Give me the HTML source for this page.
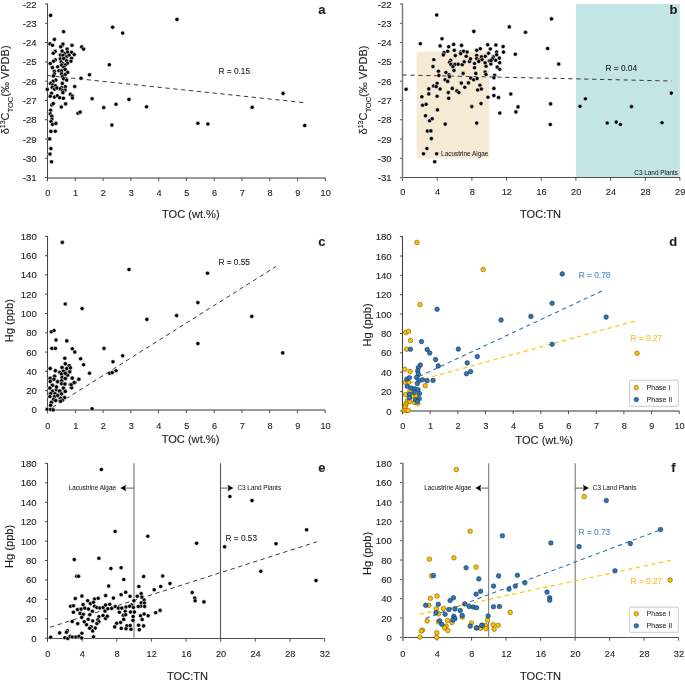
<!DOCTYPE html><html><head><meta charset="utf-8"><style>html,body{margin:0;padding:0;background:#fff;width:685px;height:681px;overflow:hidden}svg{display:block;will-change:transform;filter:blur(0.3px)}text{font-family:"Liberation Sans", sans-serif;stroke:#1e1e1e;stroke-width:0.12px}</style></head><body>
<svg width="685" height="681" viewBox="0 0 685 681" fill="#1e1e1e">
<defs><marker id="ah" markerWidth="6" markerHeight="6" refX="5" refY="3" orient="auto" markerUnits="userSpaceOnUse"><path d="M0,0 L6,3 L0,6 z" fill="#111"/></marker></defs>
<rect x="416.6" y="51.4" width="72.7" height="107.0" fill="#f6ead5"/>
<rect x="576.0" y="3.9" width="103.9" height="173.6" fill="#c3e5e3"/>
<line x1="44.9" y1="177.6" x2="47.5" y2="177.6" stroke="#404040" stroke-width="0.9"/>
<text x="36.7" y="181.1" font-size="9.6" text-anchor="end">-31</text>
<line x1="44.9" y1="158.3" x2="47.5" y2="158.3" stroke="#404040" stroke-width="0.9"/>
<text x="36.7" y="161.8" font-size="9.6" text-anchor="end">-30</text>
<line x1="44.9" y1="139.0" x2="47.5" y2="139.0" stroke="#404040" stroke-width="0.9"/>
<text x="36.7" y="142.5" font-size="9.6" text-anchor="end">-29</text>
<line x1="44.9" y1="119.7" x2="47.5" y2="119.7" stroke="#404040" stroke-width="0.9"/>
<text x="36.7" y="123.2" font-size="9.6" text-anchor="end">-28</text>
<line x1="44.9" y1="100.4" x2="47.5" y2="100.4" stroke="#404040" stroke-width="0.9"/>
<text x="36.7" y="103.9" font-size="9.6" text-anchor="end">-27</text>
<line x1="44.9" y1="81.2" x2="47.5" y2="81.2" stroke="#404040" stroke-width="0.9"/>
<text x="36.7" y="84.7" font-size="9.6" text-anchor="end">-26</text>
<line x1="44.9" y1="61.9" x2="47.5" y2="61.9" stroke="#404040" stroke-width="0.9"/>
<text x="36.7" y="65.4" font-size="9.6" text-anchor="end">-25</text>
<line x1="44.9" y1="42.6" x2="47.5" y2="42.6" stroke="#404040" stroke-width="0.9"/>
<text x="36.7" y="46.1" font-size="9.6" text-anchor="end">-24</text>
<line x1="44.9" y1="23.3" x2="47.5" y2="23.3" stroke="#404040" stroke-width="0.9"/>
<text x="36.7" y="26.8" font-size="9.6" text-anchor="end">-23</text>
<line x1="44.9" y1="4.0" x2="47.5" y2="4.0" stroke="#404040" stroke-width="0.9"/>
<text x="36.7" y="7.5" font-size="9.6" text-anchor="end">-22</text>
<line x1="47.5" y1="177.9" x2="325.4" y2="177.9" stroke="#9a9a9a" stroke-width="2"/>
<line x1="47.5" y1="177.9" x2="47.5" y2="181.1" stroke="#404040" stroke-width="0.9"/>
<text x="47.8" y="195.5" font-size="9.2" text-anchor="middle">0</text>
<line x1="75.3" y1="177.9" x2="75.3" y2="181.1" stroke="#404040" stroke-width="0.9"/>
<text x="75.6" y="195.5" font-size="9.2" text-anchor="middle">1</text>
<line x1="103.1" y1="177.9" x2="103.1" y2="181.1" stroke="#404040" stroke-width="0.9"/>
<text x="103.4" y="195.5" font-size="9.2" text-anchor="middle">2</text>
<line x1="130.9" y1="177.9" x2="130.9" y2="181.1" stroke="#404040" stroke-width="0.9"/>
<text x="131.2" y="195.5" font-size="9.2" text-anchor="middle">3</text>
<line x1="158.7" y1="177.9" x2="158.7" y2="181.1" stroke="#404040" stroke-width="0.9"/>
<text x="159.0" y="195.5" font-size="9.2" text-anchor="middle">4</text>
<line x1="186.4" y1="177.9" x2="186.4" y2="181.1" stroke="#404040" stroke-width="0.9"/>
<text x="186.8" y="195.5" font-size="9.2" text-anchor="middle">5</text>
<line x1="214.2" y1="177.9" x2="214.2" y2="181.1" stroke="#404040" stroke-width="0.9"/>
<text x="214.5" y="195.5" font-size="9.2" text-anchor="middle">6</text>
<line x1="242.0" y1="177.9" x2="242.0" y2="181.1" stroke="#404040" stroke-width="0.9"/>
<text x="242.3" y="195.5" font-size="9.2" text-anchor="middle">7</text>
<line x1="269.8" y1="177.9" x2="269.8" y2="181.1" stroke="#404040" stroke-width="0.9"/>
<text x="270.1" y="195.5" font-size="9.2" text-anchor="middle">8</text>
<line x1="297.6" y1="177.9" x2="297.6" y2="181.1" stroke="#404040" stroke-width="0.9"/>
<text x="297.9" y="195.5" font-size="9.2" text-anchor="middle">9</text>
<line x1="325.4" y1="177.9" x2="325.4" y2="181.1" stroke="#404040" stroke-width="0.9"/>
<text x="325.7" y="195.5" font-size="9.2" text-anchor="middle">10</text>
<line x1="47.5" y1="3.5" x2="47.5" y2="181.1" stroke="#454545" stroke-width="1.1"/>
<line x1="399.9" y1="177.6" x2="402.5" y2="177.6" stroke="#404040" stroke-width="0.9"/>
<text x="391.7" y="181.1" font-size="9.6" text-anchor="end">-31</text>
<line x1="399.9" y1="158.3" x2="402.5" y2="158.3" stroke="#404040" stroke-width="0.9"/>
<text x="391.7" y="161.8" font-size="9.6" text-anchor="end">-30</text>
<line x1="399.9" y1="139.0" x2="402.5" y2="139.0" stroke="#404040" stroke-width="0.9"/>
<text x="391.7" y="142.5" font-size="9.6" text-anchor="end">-29</text>
<line x1="399.9" y1="119.7" x2="402.5" y2="119.7" stroke="#404040" stroke-width="0.9"/>
<text x="391.7" y="123.2" font-size="9.6" text-anchor="end">-28</text>
<line x1="399.9" y1="100.4" x2="402.5" y2="100.4" stroke="#404040" stroke-width="0.9"/>
<text x="391.7" y="103.9" font-size="9.6" text-anchor="end">-27</text>
<line x1="399.9" y1="81.2" x2="402.5" y2="81.2" stroke="#404040" stroke-width="0.9"/>
<text x="391.7" y="84.7" font-size="9.6" text-anchor="end">-26</text>
<line x1="399.9" y1="61.9" x2="402.5" y2="61.9" stroke="#404040" stroke-width="0.9"/>
<text x="391.7" y="65.4" font-size="9.6" text-anchor="end">-25</text>
<line x1="399.9" y1="42.6" x2="402.5" y2="42.6" stroke="#404040" stroke-width="0.9"/>
<text x="391.7" y="46.1" font-size="9.6" text-anchor="end">-24</text>
<line x1="399.9" y1="23.3" x2="402.5" y2="23.3" stroke="#404040" stroke-width="0.9"/>
<text x="391.7" y="26.8" font-size="9.6" text-anchor="end">-23</text>
<line x1="399.9" y1="4.0" x2="402.5" y2="4.0" stroke="#404040" stroke-width="0.9"/>
<text x="391.7" y="7.5" font-size="9.6" text-anchor="end">-22</text>
<line x1="402.5" y1="177.5" x2="679.9" y2="177.5" stroke="#505050" stroke-width="1.1"/>
<line x1="402.5" y1="177.5" x2="402.5" y2="180.7" stroke="#404040" stroke-width="0.9"/>
<text x="402.8" y="195.4" font-size="9.2" text-anchor="middle">0</text>
<line x1="437.2" y1="177.5" x2="437.2" y2="180.7" stroke="#404040" stroke-width="0.9"/>
<text x="437.5" y="195.4" font-size="9.2" text-anchor="middle">4</text>
<line x1="471.9" y1="177.5" x2="471.9" y2="180.7" stroke="#404040" stroke-width="0.9"/>
<text x="472.2" y="195.4" font-size="9.2" text-anchor="middle">8</text>
<line x1="506.5" y1="177.5" x2="506.5" y2="180.7" stroke="#404040" stroke-width="0.9"/>
<text x="506.8" y="195.4" font-size="9.2" text-anchor="middle">12</text>
<line x1="541.2" y1="177.5" x2="541.2" y2="180.7" stroke="#404040" stroke-width="0.9"/>
<text x="541.5" y="195.4" font-size="9.2" text-anchor="middle">16</text>
<line x1="575.9" y1="177.5" x2="575.9" y2="180.7" stroke="#404040" stroke-width="0.9"/>
<text x="576.2" y="195.4" font-size="9.2" text-anchor="middle">20</text>
<line x1="610.6" y1="177.5" x2="610.6" y2="180.7" stroke="#404040" stroke-width="0.9"/>
<text x="610.9" y="195.4" font-size="9.2" text-anchor="middle">24</text>
<line x1="645.3" y1="177.5" x2="645.3" y2="180.7" stroke="#404040" stroke-width="0.9"/>
<text x="645.6" y="195.4" font-size="9.2" text-anchor="middle">28</text>
<line x1="679.9" y1="177.5" x2="679.9" y2="180.7" stroke="#404040" stroke-width="0.9"/>
<text x="680.2" y="195.4" font-size="9.2" text-anchor="middle">29</text>
<line x1="402.5" y1="3.5" x2="402.5" y2="180.7" stroke="#777" stroke-width="1.4"/>
<line x1="45.0" y1="409.9" x2="47.6" y2="409.9" stroke="#404040" stroke-width="0.9"/>
<text x="36.8" y="413.4" font-size="9.6" text-anchor="end">0</text>
<line x1="45.0" y1="390.6" x2="47.6" y2="390.6" stroke="#404040" stroke-width="0.9"/>
<text x="36.8" y="394.1" font-size="9.6" text-anchor="end">20</text>
<line x1="45.0" y1="371.3" x2="47.6" y2="371.3" stroke="#404040" stroke-width="0.9"/>
<text x="36.8" y="374.8" font-size="9.6" text-anchor="end">40</text>
<line x1="45.0" y1="352.1" x2="47.6" y2="352.1" stroke="#404040" stroke-width="0.9"/>
<text x="36.8" y="355.6" font-size="9.6" text-anchor="end">60</text>
<line x1="45.0" y1="332.8" x2="47.6" y2="332.8" stroke="#404040" stroke-width="0.9"/>
<text x="36.8" y="336.3" font-size="9.6" text-anchor="end">80</text>
<line x1="45.0" y1="313.5" x2="47.6" y2="313.5" stroke="#404040" stroke-width="0.9"/>
<text x="36.8" y="317.0" font-size="9.6" text-anchor="end">100</text>
<line x1="45.0" y1="294.2" x2="47.6" y2="294.2" stroke="#404040" stroke-width="0.9"/>
<text x="36.8" y="297.7" font-size="9.6" text-anchor="end">120</text>
<line x1="45.0" y1="274.9" x2="47.6" y2="274.9" stroke="#404040" stroke-width="0.9"/>
<text x="36.8" y="278.4" font-size="9.6" text-anchor="end">140</text>
<line x1="45.0" y1="255.7" x2="47.6" y2="255.7" stroke="#404040" stroke-width="0.9"/>
<text x="36.8" y="259.2" font-size="9.6" text-anchor="end">160</text>
<line x1="45.0" y1="236.4" x2="47.6" y2="236.4" stroke="#404040" stroke-width="0.9"/>
<text x="36.8" y="239.9" font-size="9.6" text-anchor="end">180</text>
<line x1="47.6" y1="410.0" x2="325.2" y2="410.0" stroke="#9a9a9a" stroke-width="2"/>
<line x1="47.6" y1="410.0" x2="47.6" y2="413.2" stroke="#404040" stroke-width="0.9"/>
<text x="47.9" y="428.8" font-size="9.2" text-anchor="middle">0</text>
<line x1="75.4" y1="410.0" x2="75.4" y2="413.2" stroke="#404040" stroke-width="0.9"/>
<text x="75.7" y="428.8" font-size="9.2" text-anchor="middle">1</text>
<line x1="103.1" y1="410.0" x2="103.1" y2="413.2" stroke="#404040" stroke-width="0.9"/>
<text x="103.4" y="428.8" font-size="9.2" text-anchor="middle">2</text>
<line x1="130.9" y1="410.0" x2="130.9" y2="413.2" stroke="#404040" stroke-width="0.9"/>
<text x="131.2" y="428.8" font-size="9.2" text-anchor="middle">3</text>
<line x1="158.6" y1="410.0" x2="158.6" y2="413.2" stroke="#404040" stroke-width="0.9"/>
<text x="158.9" y="428.8" font-size="9.2" text-anchor="middle">4</text>
<line x1="186.4" y1="410.0" x2="186.4" y2="413.2" stroke="#404040" stroke-width="0.9"/>
<text x="186.7" y="428.8" font-size="9.2" text-anchor="middle">5</text>
<line x1="214.2" y1="410.0" x2="214.2" y2="413.2" stroke="#404040" stroke-width="0.9"/>
<text x="214.5" y="428.8" font-size="9.2" text-anchor="middle">6</text>
<line x1="241.9" y1="410.0" x2="241.9" y2="413.2" stroke="#404040" stroke-width="0.9"/>
<text x="242.2" y="428.8" font-size="9.2" text-anchor="middle">7</text>
<line x1="269.7" y1="410.0" x2="269.7" y2="413.2" stroke="#404040" stroke-width="0.9"/>
<text x="270.0" y="428.8" font-size="9.2" text-anchor="middle">8</text>
<line x1="297.4" y1="410.0" x2="297.4" y2="413.2" stroke="#404040" stroke-width="0.9"/>
<text x="297.7" y="428.8" font-size="9.2" text-anchor="middle">9</text>
<line x1="325.2" y1="410.0" x2="325.2" y2="413.2" stroke="#404040" stroke-width="0.9"/>
<text x="325.5" y="428.8" font-size="9.2" text-anchor="middle">10</text>
<line x1="47.5" y1="235.9" x2="47.5" y2="413.2" stroke="#454545" stroke-width="1.1"/>
<line x1="399.9" y1="411.0" x2="402.5" y2="411.0" stroke="#404040" stroke-width="0.9"/>
<text x="391.7" y="414.5" font-size="9.6" text-anchor="end">0</text>
<line x1="399.9" y1="391.6" x2="402.5" y2="391.6" stroke="#404040" stroke-width="0.9"/>
<text x="391.7" y="395.1" font-size="9.6" text-anchor="end">20</text>
<line x1="399.9" y1="372.2" x2="402.5" y2="372.2" stroke="#404040" stroke-width="0.9"/>
<text x="391.7" y="375.7" font-size="9.6" text-anchor="end">40</text>
<line x1="399.9" y1="352.9" x2="402.5" y2="352.9" stroke="#404040" stroke-width="0.9"/>
<text x="391.7" y="356.4" font-size="9.6" text-anchor="end">60</text>
<line x1="399.9" y1="333.5" x2="402.5" y2="333.5" stroke="#404040" stroke-width="0.9"/>
<text x="391.7" y="337.0" font-size="9.6" text-anchor="end">80</text>
<line x1="399.9" y1="314.1" x2="402.5" y2="314.1" stroke="#404040" stroke-width="0.9"/>
<text x="391.7" y="317.6" font-size="9.6" text-anchor="end">100</text>
<line x1="399.9" y1="294.7" x2="402.5" y2="294.7" stroke="#404040" stroke-width="0.9"/>
<text x="391.7" y="298.2" font-size="9.6" text-anchor="end">120</text>
<line x1="399.9" y1="275.3" x2="402.5" y2="275.3" stroke="#404040" stroke-width="0.9"/>
<text x="391.7" y="278.8" font-size="9.6" text-anchor="end">140</text>
<line x1="399.9" y1="256.0" x2="402.5" y2="256.0" stroke="#404040" stroke-width="0.9"/>
<text x="391.7" y="259.5" font-size="9.6" text-anchor="end">160</text>
<line x1="399.9" y1="236.6" x2="402.5" y2="236.6" stroke="#404040" stroke-width="0.9"/>
<text x="391.7" y="240.1" font-size="9.6" text-anchor="end">180</text>
<line x1="402.5" y1="410.9" x2="679.2" y2="410.9" stroke="#9a9a9a" stroke-width="2"/>
<line x1="402.5" y1="410.9" x2="402.5" y2="414.1" stroke="#404040" stroke-width="0.9"/>
<text x="402.8" y="428.6" font-size="9.2" text-anchor="middle">0</text>
<line x1="430.2" y1="410.9" x2="430.2" y2="414.1" stroke="#404040" stroke-width="0.9"/>
<text x="430.5" y="428.6" font-size="9.2" text-anchor="middle">1</text>
<line x1="457.8" y1="410.9" x2="457.8" y2="414.1" stroke="#404040" stroke-width="0.9"/>
<text x="458.1" y="428.6" font-size="9.2" text-anchor="middle">2</text>
<line x1="485.5" y1="410.9" x2="485.5" y2="414.1" stroke="#404040" stroke-width="0.9"/>
<text x="485.8" y="428.6" font-size="9.2" text-anchor="middle">3</text>
<line x1="513.2" y1="410.9" x2="513.2" y2="414.1" stroke="#404040" stroke-width="0.9"/>
<text x="513.5" y="428.6" font-size="9.2" text-anchor="middle">4</text>
<line x1="540.9" y1="410.9" x2="540.9" y2="414.1" stroke="#404040" stroke-width="0.9"/>
<text x="541.1" y="428.6" font-size="9.2" text-anchor="middle">5</text>
<line x1="568.5" y1="410.9" x2="568.5" y2="414.1" stroke="#404040" stroke-width="0.9"/>
<text x="568.8" y="428.6" font-size="9.2" text-anchor="middle">6</text>
<line x1="596.2" y1="410.9" x2="596.2" y2="414.1" stroke="#404040" stroke-width="0.9"/>
<text x="596.5" y="428.6" font-size="9.2" text-anchor="middle">7</text>
<line x1="623.9" y1="410.9" x2="623.9" y2="414.1" stroke="#404040" stroke-width="0.9"/>
<text x="624.2" y="428.6" font-size="9.2" text-anchor="middle">8</text>
<line x1="651.5" y1="410.9" x2="651.5" y2="414.1" stroke="#404040" stroke-width="0.9"/>
<text x="651.8" y="428.6" font-size="9.2" text-anchor="middle">9</text>
<line x1="679.2" y1="410.9" x2="679.2" y2="414.1" stroke="#404040" stroke-width="0.9"/>
<text x="679.5" y="428.6" font-size="9.2" text-anchor="middle">10</text>
<line x1="402.5" y1="236.1" x2="402.5" y2="414.1" stroke="#454545" stroke-width="1.1"/>
<line x1="44.9" y1="638.2" x2="47.5" y2="638.2" stroke="#404040" stroke-width="0.9"/>
<text x="36.7" y="641.7" font-size="9.6" text-anchor="end">0</text>
<line x1="44.9" y1="618.8" x2="47.5" y2="618.8" stroke="#404040" stroke-width="0.9"/>
<text x="36.7" y="622.3" font-size="9.6" text-anchor="end">20</text>
<line x1="44.9" y1="599.4" x2="47.5" y2="599.4" stroke="#404040" stroke-width="0.9"/>
<text x="36.7" y="602.9" font-size="9.6" text-anchor="end">40</text>
<line x1="44.9" y1="579.9" x2="47.5" y2="579.9" stroke="#404040" stroke-width="0.9"/>
<text x="36.7" y="583.4" font-size="9.6" text-anchor="end">60</text>
<line x1="44.9" y1="560.5" x2="47.5" y2="560.5" stroke="#404040" stroke-width="0.9"/>
<text x="36.7" y="564.0" font-size="9.6" text-anchor="end">80</text>
<line x1="44.9" y1="541.1" x2="47.5" y2="541.1" stroke="#404040" stroke-width="0.9"/>
<text x="36.7" y="544.6" font-size="9.6" text-anchor="end">100</text>
<line x1="44.9" y1="521.7" x2="47.5" y2="521.7" stroke="#404040" stroke-width="0.9"/>
<text x="36.7" y="525.2" font-size="9.6" text-anchor="end">120</text>
<line x1="44.9" y1="502.3" x2="47.5" y2="502.3" stroke="#404040" stroke-width="0.9"/>
<text x="36.7" y="505.8" font-size="9.6" text-anchor="end">140</text>
<line x1="44.9" y1="482.8" x2="47.5" y2="482.8" stroke="#404040" stroke-width="0.9"/>
<text x="36.7" y="486.3" font-size="9.6" text-anchor="end">160</text>
<line x1="44.9" y1="463.4" x2="47.5" y2="463.4" stroke="#404040" stroke-width="0.9"/>
<text x="36.7" y="466.9" font-size="9.6" text-anchor="end">180</text>
<line x1="47.5" y1="638.5" x2="324.6" y2="638.5" stroke="#505050" stroke-width="1.1"/>
<line x1="47.5" y1="638.5" x2="47.5" y2="641.7" stroke="#404040" stroke-width="0.9"/>
<text x="47.8" y="657.0" font-size="9.2" text-anchor="middle">0</text>
<line x1="82.1" y1="638.5" x2="82.1" y2="641.7" stroke="#404040" stroke-width="0.9"/>
<text x="82.4" y="657.0" font-size="9.2" text-anchor="middle">4</text>
<line x1="116.8" y1="638.5" x2="116.8" y2="641.7" stroke="#404040" stroke-width="0.9"/>
<text x="117.1" y="657.0" font-size="9.2" text-anchor="middle">8</text>
<line x1="151.4" y1="638.5" x2="151.4" y2="641.7" stroke="#404040" stroke-width="0.9"/>
<text x="151.7" y="657.0" font-size="9.2" text-anchor="middle">12</text>
<line x1="186.1" y1="638.5" x2="186.1" y2="641.7" stroke="#404040" stroke-width="0.9"/>
<text x="186.4" y="657.0" font-size="9.2" text-anchor="middle">16</text>
<line x1="220.7" y1="638.5" x2="220.7" y2="641.7" stroke="#404040" stroke-width="0.9"/>
<text x="221.0" y="657.0" font-size="9.2" text-anchor="middle">20</text>
<line x1="255.3" y1="638.5" x2="255.3" y2="641.7" stroke="#404040" stroke-width="0.9"/>
<text x="255.6" y="657.0" font-size="9.2" text-anchor="middle">24</text>
<line x1="290.0" y1="638.5" x2="290.0" y2="641.7" stroke="#404040" stroke-width="0.9"/>
<text x="290.3" y="657.0" font-size="9.2" text-anchor="middle">28</text>
<line x1="324.6" y1="638.5" x2="324.6" y2="641.7" stroke="#404040" stroke-width="0.9"/>
<text x="324.9" y="657.0" font-size="9.2" text-anchor="middle">32</text>
<line x1="47.5" y1="462.9" x2="47.5" y2="641.7" stroke="#454545" stroke-width="1.1"/>
<line x1="400.0" y1="637.4" x2="402.6" y2="637.4" stroke="#404040" stroke-width="0.9"/>
<text x="391.8" y="640.9" font-size="9.6" text-anchor="end">0</text>
<line x1="400.0" y1="618.1" x2="402.6" y2="618.1" stroke="#404040" stroke-width="0.9"/>
<text x="391.8" y="621.6" font-size="9.6" text-anchor="end">20</text>
<line x1="400.0" y1="598.7" x2="402.6" y2="598.7" stroke="#404040" stroke-width="0.9"/>
<text x="391.8" y="602.2" font-size="9.6" text-anchor="end">40</text>
<line x1="400.0" y1="579.4" x2="402.6" y2="579.4" stroke="#404040" stroke-width="0.9"/>
<text x="391.8" y="582.9" font-size="9.6" text-anchor="end">60</text>
<line x1="400.0" y1="560.0" x2="402.6" y2="560.0" stroke="#404040" stroke-width="0.9"/>
<text x="391.8" y="563.5" font-size="9.6" text-anchor="end">80</text>
<line x1="400.0" y1="540.7" x2="402.6" y2="540.7" stroke="#404040" stroke-width="0.9"/>
<text x="391.8" y="544.2" font-size="9.6" text-anchor="end">100</text>
<line x1="400.0" y1="521.3" x2="402.6" y2="521.3" stroke="#404040" stroke-width="0.9"/>
<text x="391.8" y="524.8" font-size="9.6" text-anchor="end">120</text>
<line x1="400.0" y1="502.0" x2="402.6" y2="502.0" stroke="#404040" stroke-width="0.9"/>
<text x="391.8" y="505.5" font-size="9.6" text-anchor="end">140</text>
<line x1="400.0" y1="482.6" x2="402.6" y2="482.6" stroke="#404040" stroke-width="0.9"/>
<text x="391.8" y="486.1" font-size="9.6" text-anchor="end">160</text>
<line x1="400.0" y1="463.3" x2="402.6" y2="463.3" stroke="#404040" stroke-width="0.9"/>
<text x="391.8" y="466.8" font-size="9.6" text-anchor="end">180</text>
<line x1="402.6" y1="637.5" x2="678.6" y2="637.5" stroke="#505050" stroke-width="1.1"/>
<line x1="402.6" y1="637.5" x2="402.6" y2="640.7" stroke="#404040" stroke-width="0.9"/>
<text x="402.9" y="656.9" font-size="9.2" text-anchor="middle">0</text>
<line x1="437.1" y1="637.5" x2="437.1" y2="640.7" stroke="#404040" stroke-width="0.9"/>
<text x="437.4" y="656.9" font-size="9.2" text-anchor="middle">4</text>
<line x1="471.6" y1="637.5" x2="471.6" y2="640.7" stroke="#404040" stroke-width="0.9"/>
<text x="471.9" y="656.9" font-size="9.2" text-anchor="middle">8</text>
<line x1="506.1" y1="637.5" x2="506.1" y2="640.7" stroke="#404040" stroke-width="0.9"/>
<text x="506.4" y="656.9" font-size="9.2" text-anchor="middle">12</text>
<line x1="540.6" y1="637.5" x2="540.6" y2="640.7" stroke="#404040" stroke-width="0.9"/>
<text x="540.9" y="656.9" font-size="9.2" text-anchor="middle">16</text>
<line x1="575.1" y1="637.5" x2="575.1" y2="640.7" stroke="#404040" stroke-width="0.9"/>
<text x="575.4" y="656.9" font-size="9.2" text-anchor="middle">20</text>
<line x1="609.6" y1="637.5" x2="609.6" y2="640.7" stroke="#404040" stroke-width="0.9"/>
<text x="609.9" y="656.9" font-size="9.2" text-anchor="middle">24</text>
<line x1="644.1" y1="637.5" x2="644.1" y2="640.7" stroke="#404040" stroke-width="0.9"/>
<text x="644.4" y="656.9" font-size="9.2" text-anchor="middle">28</text>
<line x1="678.6" y1="637.5" x2="678.6" y2="640.7" stroke="#404040" stroke-width="0.9"/>
<text x="678.9" y="656.9" font-size="9.2" text-anchor="middle">32</text>
<line x1="402.9" y1="462.8" x2="402.9" y2="640.7" stroke="#8a8a8a" stroke-width="1.9"/>
<line x1="134.0" y1="463.3" x2="134.0" y2="638.2" stroke="#a8a8a8" stroke-width="1.8"/>
<line x1="220.5" y1="463.3" x2="220.5" y2="638.2" stroke="#555" stroke-width="1.1"/>
<line x1="488.6" y1="463.3" x2="488.6" y2="637.4" stroke="#888" stroke-width="1.2"/>
<line x1="575.2" y1="463.3" x2="575.2" y2="637.4" stroke="#777" stroke-width="1.1"/>
<line x1="134.0" y1="488.1" x2="124.8" y2="488.1" stroke="#6a6a6a" stroke-width="1.1"/>
<path d="M120.6,488.1 L126.0,485.1 L124.9,488.1 L126.0,491.1 z" fill="#000" stroke="#000" stroke-width="0.3" stroke-linejoin="round"/>
<line x1="220.5" y1="488.1" x2="228.9" y2="488.1" stroke="#6a6a6a" stroke-width="1.1"/>
<path d="M233.1,488.1 L227.7,485.1 L228.8,488.1 L227.7,491.1 z" fill="#000" stroke="#000" stroke-width="0.3" stroke-linejoin="round"/>
<line x1="488.6" y1="488.1" x2="479.8" y2="488.1" stroke="#6a6a6a" stroke-width="1.1"/>
<path d="M475.6,488.1 L481.0,485.1 L479.9,488.1 L481.0,491.1 z" fill="#000" stroke="#000" stroke-width="0.3" stroke-linejoin="round"/>
<line x1="575.2" y1="488.1" x2="584.3" y2="488.1" stroke="#6a6a6a" stroke-width="1.1"/>
<path d="M588.5,488.1 L583.1,485.1 L584.2,488.1 L583.1,491.1 z" fill="#000" stroke="#000" stroke-width="0.3" stroke-linejoin="round"/>
<text x="116.0" y="490.1" font-size="6.4" text-anchor="end" style="fill:#1e1e1e;stroke:#1e1e1e;stroke-width:0.05px" font-weight="normal">Lacustrine Algae</text>
<text x="237.4" y="490.1" font-size="6.4" text-anchor="start" style="fill:#1e1e1e;stroke:#1e1e1e;stroke-width:0.05px" font-weight="normal">C3 Land Plants</text>
<text x="471.4" y="490.1" font-size="6.4" text-anchor="end" style="fill:#1e1e1e;stroke:#1e1e1e;stroke-width:0.05px" font-weight="normal">Lacustrine Algae</text>
<text x="592.8" y="490.1" font-size="6.4" text-anchor="start" style="fill:#1e1e1e;stroke:#1e1e1e;stroke-width:0.05px" font-weight="normal">C3 Land Plants</text>
<text x="441.1" y="155.8" font-size="6.4" text-anchor="start" style="fill:#1e1e1e;stroke:#1e1e1e;stroke-width:0.05px" font-weight="normal">Lacustrine Algae</text>
<text x="678.0" y="174.5" font-size="6.4" text-anchor="end" style="fill:#1e1e1e;stroke:#1e1e1e;stroke-width:0.05px" font-weight="normal">C3 Land Plants</text>
<line x1="47.5" y1="75.5" x2="303.8" y2="102.6" stroke="#383838" stroke-width="1.0" stroke-dasharray="4.3 3.6"/>
<line x1="402.5" y1="75.0" x2="671.6" y2="81.0" stroke="#383838" stroke-width="1.0" stroke-dasharray="4.3 3.6"/>
<line x1="52.5" y1="407.3" x2="276.0" y2="266.5" stroke="#383838" stroke-width="1.0" stroke-dasharray="4.3 3.6"/>
<line x1="50.0" y1="627.3" x2="316.9" y2="541.8" stroke="#383838" stroke-width="1.0" stroke-dasharray="4.3 3.6"/>
<line x1="419.0" y1="376.5" x2="605.0" y2="289.6" stroke="#2e75b6" stroke-width="1.1" stroke-dasharray="4.3 3.6"/>
<line x1="409.6" y1="383.0" x2="637.0" y2="320.5" stroke="#ffc000" stroke-width="1.1" stroke-dasharray="4.3 3.6"/>
<line x1="425.7" y1="618.4" x2="660.5" y2="529.8" stroke="#2e75b6" stroke-width="1.1" stroke-dasharray="4.3 3.6"/>
<line x1="419.6" y1="614.3" x2="670.7" y2="560.4" stroke="#ffc000" stroke-width="1.1" stroke-dasharray="4.3 3.6"/>
<text x="218.5" y="74.0" font-size="8.9" textLength="31.6" lengthAdjust="spacingAndGlyphs" style="fill:#1e1e1e;stroke:#1e1e1e">R = 0.15</text>
<text x="605.5" y="70.7" font-size="8.9" textLength="31.6" lengthAdjust="spacingAndGlyphs" style="fill:#1e1e1e;stroke:#1e1e1e">R = 0.04</text>
<text x="218.4" y="264.7" font-size="8.9" textLength="31.6" lengthAdjust="spacingAndGlyphs" style="fill:#1e1e1e;stroke:#1e1e1e">R = 0.55</text>
<text x="225.5" y="540.6" font-size="8.9" textLength="31.6" lengthAdjust="spacingAndGlyphs" style="fill:#1e1e1e;stroke:#1e1e1e">R = 0.53</text>
<text x="578.8" y="277.5" font-size="8.9" textLength="31.6" lengthAdjust="spacingAndGlyphs" style="fill:#4a8ac8;stroke:#4a8ac8">R = 0.78</text>
<text x="630.6" y="340.7" font-size="8.9" textLength="31.6" lengthAdjust="spacingAndGlyphs" style="fill:#f7bd22;stroke:#f7bd22">R = 0.27</text>
<text x="578.6" y="534.7" font-size="8.9" textLength="31.6" lengthAdjust="spacingAndGlyphs" style="fill:#4a8ac8;stroke:#4a8ac8">R = 0.73</text>
<text x="630.6" y="583.7" font-size="8.9" textLength="31.6" lengthAdjust="spacingAndGlyphs" style="fill:#f7bd22;stroke:#f7bd22">R = 0.27</text>
<g fill="#000" stroke="#fff" stroke-width="0.5"><circle cx="177.0" cy="19.4" r="2.05"/><circle cx="112.6" cy="27.2" r="2.05"/><circle cx="122.7" cy="33.1" r="2.05"/><circle cx="81.7" cy="46.9" r="2.05"/><circle cx="83.6" cy="49.1" r="2.05"/><circle cx="109.3" cy="64.8" r="2.05"/><circle cx="89.5" cy="74.8" r="2.05"/><circle cx="81.0" cy="78.2" r="2.05"/><circle cx="92.1" cy="98.7" r="2.05"/><circle cx="129.0" cy="99.4" r="2.05"/><circle cx="116.0" cy="104.2" r="2.05"/><circle cx="103.7" cy="107.6" r="2.05"/><circle cx="146.5" cy="106.8" r="2.05"/><circle cx="78.0" cy="113.2" r="2.05"/><circle cx="80.2" cy="112.1" r="2.05"/><circle cx="111.9" cy="125.1" r="2.05"/><circle cx="197.9" cy="123.2" r="2.05"/><circle cx="207.9" cy="124.0" r="2.05"/><circle cx="252.2" cy="107.2" r="2.05"/><circle cx="283.1" cy="93.4" r="2.05"/><circle cx="304.7" cy="125.5" r="2.05"/><circle cx="50.6" cy="15.4" r="2.05"/><circle cx="63.6" cy="31.7" r="2.05"/><circle cx="54.4" cy="39.4" r="2.05"/><circle cx="50.0" cy="43.9" r="2.05"/><circle cx="52.5" cy="45.3" r="2.05"/><circle cx="72.0" cy="45.3" r="2.05"/><circle cx="62.1" cy="45.8" r="2.05"/><circle cx="62.9" cy="44.1" r="2.05"/><circle cx="60.7" cy="46.7" r="2.05"/><circle cx="67.1" cy="49.1" r="2.05"/><circle cx="55.2" cy="51.4" r="2.05"/><circle cx="53.3" cy="53.3" r="2.05"/><circle cx="62.1" cy="51.1" r="2.05"/><circle cx="64.7" cy="53.6" r="2.05"/><circle cx="67.6" cy="52.0" r="2.05"/><circle cx="71.6" cy="52.3" r="2.05"/><circle cx="74.2" cy="54.6" r="2.05"/><circle cx="60.3" cy="55.1" r="2.05"/><circle cx="62.9" cy="55.5" r="2.05"/><circle cx="66.5" cy="56.8" r="2.05"/><circle cx="69.1" cy="55.1" r="2.05"/><circle cx="71.6" cy="58.3" r="2.05"/><circle cx="60.3" cy="58.9" r="2.05"/><circle cx="55.3" cy="59.9" r="2.05"/><circle cx="64.3" cy="58.6" r="2.05"/><circle cx="63.8" cy="58.5" r="2.05"/><circle cx="53.5" cy="61.2" r="2.05"/><circle cx="50.2" cy="63.5" r="2.05"/><circle cx="61.2" cy="62.0" r="2.05"/><circle cx="66.5" cy="60.7" r="2.05"/><circle cx="70.9" cy="61.2" r="2.05"/><circle cx="67.3" cy="63.4" r="2.05"/><circle cx="62.9" cy="63.8" r="2.05"/><circle cx="65.1" cy="65.1" r="2.05"/><circle cx="61.6" cy="65.1" r="2.05"/><circle cx="57.7" cy="66.7" r="2.05"/><circle cx="52.4" cy="67.6" r="2.05"/><circle cx="63.8" cy="67.3" r="2.05"/><circle cx="65.1" cy="69.5" r="2.05"/><circle cx="59.0" cy="70.7" r="2.05"/><circle cx="61.6" cy="70.9" r="2.05"/><circle cx="54.4" cy="71.3" r="2.05"/><circle cx="67.6" cy="72.4" r="2.05"/><circle cx="54.4" cy="73.8" r="2.05"/><circle cx="61.6" cy="73.8" r="2.05"/><circle cx="65.1" cy="74.6" r="2.05"/><circle cx="53.5" cy="75.9" r="2.05"/><circle cx="62.5" cy="76.6" r="2.05"/><circle cx="63.6" cy="78.8" r="2.05"/><circle cx="66.7" cy="80.1" r="2.05"/><circle cx="55.9" cy="80.1" r="2.05"/><circle cx="53.1" cy="81.4" r="2.05"/><circle cx="50.6" cy="83.4" r="2.05"/><circle cx="62.3" cy="83.4" r="2.05"/><circle cx="52.8" cy="85.0" r="2.05"/><circle cx="55.5" cy="85.8" r="2.05"/><circle cx="65.3" cy="86.7" r="2.05"/><circle cx="74.7" cy="86.5" r="2.05"/><circle cx="61.6" cy="87.6" r="2.05"/><circle cx="52.2" cy="87.4" r="2.05"/><circle cx="47.3" cy="89.4" r="2.05"/><circle cx="54.6" cy="89.2" r="2.05"/><circle cx="57.0" cy="88.0" r="2.05"/><circle cx="60.3" cy="88.9" r="2.05"/><circle cx="65.0" cy="90.1" r="2.05"/><circle cx="62.5" cy="90.7" r="2.05"/><circle cx="62.9" cy="92.7" r="2.05"/><circle cx="51.5" cy="93.3" r="2.05"/><circle cx="70.4" cy="94.4" r="2.05"/><circle cx="72.4" cy="96.0" r="2.05"/><circle cx="72.4" cy="98.0" r="2.05"/><circle cx="50.2" cy="96.2" r="2.05"/><circle cx="54.4" cy="97.1" r="2.05"/><circle cx="57.4" cy="95.7" r="2.05"/><circle cx="59.7" cy="97.7" r="2.05"/><circle cx="63.4" cy="98.3" r="2.05"/><circle cx="65.6" cy="103.9" r="2.05"/><circle cx="51.8" cy="105.0" r="2.05"/><circle cx="53.3" cy="103.6" r="2.05"/><circle cx="61.3" cy="107.0" r="2.05"/><circle cx="50.6" cy="110.2" r="2.05"/><circle cx="50.2" cy="113.9" r="2.05"/><circle cx="51.8" cy="116.2" r="2.05"/><circle cx="51.9" cy="119.1" r="2.05"/><circle cx="51.0" cy="121.5" r="2.05"/><circle cx="52.5" cy="124.4" r="2.05"/><circle cx="55.9" cy="123.4" r="2.05"/><circle cx="50.9" cy="131.4" r="2.05"/><circle cx="55.3" cy="131.3" r="2.05"/><circle cx="49.7" cy="138.9" r="2.05"/><circle cx="50.9" cy="148.6" r="2.05"/><circle cx="50.0" cy="154.1" r="2.05"/><circle cx="51.5" cy="161.8" r="2.05"/></g>
<g fill="#000" stroke="#fff" stroke-width="0.5"><circle cx="551.5" cy="18.9" r="2.05"/><circle cx="509.3" cy="26.9" r="2.05"/><circle cx="525.5" cy="32.3" r="2.05"/><circle cx="547.6" cy="48.5" r="2.05"/><circle cx="515.3" cy="54.2" r="2.05"/><circle cx="558.7" cy="64.1" r="2.05"/><circle cx="510.8" cy="94.0" r="2.05"/><circle cx="518.0" cy="106.9" r="2.05"/><circle cx="515.9" cy="111.9" r="2.05"/><circle cx="550.6" cy="103.9" r="2.05"/><circle cx="550.3" cy="124.5" r="2.05"/><circle cx="580.0" cy="106.3" r="2.05"/><circle cx="585.4" cy="98.8" r="2.05"/><circle cx="631.5" cy="106.6" r="2.05"/><circle cx="607.2" cy="123.0" r="2.05"/><circle cx="616.2" cy="122.1" r="2.05"/><circle cx="620.4" cy="124.5" r="2.05"/><circle cx="662.0" cy="122.7" r="2.05"/><circle cx="671.3" cy="93.1" r="2.05"/><circle cx="499.8" cy="113.1" r="2.05"/><circle cx="406.1" cy="89.3" r="2.05"/><circle cx="436.7" cy="15.0" r="2.05"/><circle cx="473.8" cy="31.4" r="2.05"/><circle cx="420.3" cy="43.7" r="2.05"/><circle cx="442.0" cy="38.8" r="2.05"/><circle cx="440.1" cy="45.9" r="2.05"/><circle cx="448.7" cy="46.7" r="2.05"/><circle cx="453.6" cy="44.4" r="2.05"/><circle cx="461.5" cy="45.4" r="2.05"/><circle cx="487.7" cy="44.8" r="2.05"/><circle cx="495.9" cy="45.0" r="2.05"/><circle cx="480.3" cy="48.7" r="2.05"/><circle cx="490.3" cy="49.0" r="2.05"/><circle cx="476.7" cy="50.3" r="2.05"/><circle cx="444.1" cy="52.6" r="2.05"/><circle cx="447.7" cy="51.2" r="2.05"/><circle cx="454.3" cy="50.3" r="2.05"/><circle cx="460.9" cy="52.0" r="2.05"/><circle cx="463.5" cy="51.2" r="2.05"/><circle cx="467.1" cy="52.0" r="2.05"/><circle cx="443.3" cy="54.9" r="2.05"/><circle cx="455.3" cy="55.6" r="2.05"/><circle cx="466.2" cy="56.3" r="2.05"/><circle cx="460.6" cy="53.6" r="2.05"/><circle cx="476.7" cy="55.6" r="2.05"/><circle cx="481.4" cy="56.9" r="2.05"/><circle cx="485.3" cy="56.3" r="2.05"/><circle cx="488.6" cy="53.3" r="2.05"/><circle cx="496.6" cy="52.0" r="2.05"/><circle cx="493.3" cy="56.9" r="2.05"/><circle cx="433.8" cy="59.7" r="2.05"/><circle cx="433.0" cy="66.6" r="2.05"/><circle cx="450.7" cy="60.2" r="2.05"/><circle cx="449.6" cy="62.2" r="2.05"/><circle cx="451.0" cy="64.4" r="2.05"/><circle cx="454.9" cy="64.4" r="2.05"/><circle cx="458.2" cy="64.2" r="2.05"/><circle cx="452.9" cy="66.8" r="2.05"/><circle cx="462.2" cy="64.8" r="2.05"/><circle cx="464.2" cy="61.8" r="2.05"/><circle cx="469.5" cy="61.5" r="2.05"/><circle cx="470.5" cy="58.9" r="2.05"/><circle cx="476.7" cy="58.6" r="2.05"/><circle cx="479.0" cy="60.0" r="2.05"/><circle cx="482.0" cy="59.6" r="2.05"/><circle cx="478.7" cy="61.5" r="2.05"/><circle cx="474.5" cy="63.5" r="2.05"/><circle cx="485.1" cy="62.9" r="2.05"/><circle cx="489.3" cy="60.9" r="2.05"/><circle cx="490.9" cy="63.9" r="2.05"/><circle cx="495.6" cy="60.2" r="2.05"/><circle cx="486.0" cy="66.2" r="2.05"/><circle cx="474.5" cy="67.8" r="2.05"/><circle cx="497.2" cy="67.1" r="2.05"/><circle cx="454.0" cy="70.4" r="2.05"/><circle cx="438.4" cy="71.2" r="2.05"/><circle cx="445.9" cy="72.5" r="2.05"/><circle cx="449.0" cy="74.8" r="2.05"/><circle cx="438.8" cy="75.4" r="2.05"/><circle cx="463.1" cy="73.4" r="2.05"/><circle cx="475.8" cy="73.4" r="2.05"/><circle cx="485.1" cy="72.1" r="2.05"/><circle cx="486.0" cy="74.5" r="2.05"/><circle cx="494.6" cy="75.4" r="2.05"/><circle cx="493.9" cy="77.8" r="2.05"/><circle cx="449.4" cy="76.7" r="2.05"/><circle cx="470.8" cy="78.1" r="2.05"/><circle cx="473.7" cy="79.8" r="2.05"/><circle cx="477.1" cy="78.5" r="2.05"/><circle cx="445.0" cy="79.8" r="2.05"/><circle cx="447.7" cy="81.4" r="2.05"/><circle cx="461.3" cy="83.1" r="2.05"/><circle cx="468.4" cy="82.9" r="2.05"/><circle cx="437.1" cy="83.3" r="2.05"/><circle cx="433.5" cy="86.0" r="2.05"/><circle cx="436.2" cy="86.6" r="2.05"/><circle cx="440.1" cy="89.0" r="2.05"/><circle cx="428.8" cy="88.9" r="2.05"/><circle cx="452.3" cy="88.4" r="2.05"/><circle cx="464.8" cy="87.3" r="2.05"/><circle cx="480.0" cy="85.3" r="2.05"/><circle cx="481.4" cy="89.0" r="2.05"/><circle cx="477.7" cy="90.0" r="2.05"/><circle cx="493.9" cy="88.4" r="2.05"/><circle cx="456.9" cy="90.9" r="2.05"/><circle cx="458.9" cy="92.6" r="2.05"/><circle cx="448.3" cy="92.6" r="2.05"/><circle cx="428.8" cy="93.9" r="2.05"/><circle cx="421.9" cy="96.8" r="2.05"/><circle cx="437.1" cy="96.2" r="2.05"/><circle cx="448.7" cy="98.3" r="2.05"/><circle cx="488.0" cy="97.2" r="2.05"/><circle cx="493.9" cy="95.6" r="2.05"/><circle cx="498.5" cy="97.5" r="2.05"/><circle cx="422.6" cy="105.2" r="2.05"/><circle cx="426.1" cy="104.3" r="2.05"/><circle cx="437.4" cy="109.9" r="2.05"/><circle cx="471.8" cy="106.6" r="2.05"/><circle cx="481.0" cy="103.6" r="2.05"/><circle cx="425.5" cy="115.7" r="2.05"/><circle cx="429.6" cy="120.8" r="2.05"/><circle cx="432.2" cy="118.8" r="2.05"/><circle cx="445.2" cy="124.1" r="2.05"/><circle cx="476.7" cy="123.1" r="2.05"/><circle cx="427.4" cy="131.1" r="2.05"/><circle cx="430.9" cy="130.9" r="2.05"/><circle cx="431.4" cy="138.6" r="2.05"/><circle cx="426.9" cy="148.5" r="2.05"/><circle cx="423.5" cy="153.8" r="2.05"/><circle cx="436.7" cy="153.8" r="2.05"/><circle cx="434.7" cy="161.7" r="2.05"/><circle cx="503.1" cy="46.6" r="2.05"/><circle cx="503.5" cy="52.1" r="2.05"/><circle cx="496.6" cy="54.7" r="2.05"/><circle cx="492.5" cy="58.7" r="2.05"/><circle cx="499.3" cy="58.1" r="2.05"/><circle cx="491.0" cy="60.6" r="2.05"/><circle cx="499.6" cy="62.7" r="2.05"/><circle cx="499.7" cy="69.3" r="2.05"/></g>
<g fill="#000" stroke="#fff" stroke-width="0.5"><circle cx="129.0" cy="269.5" r="2.05"/><circle cx="207.5" cy="273.2" r="2.05"/><circle cx="82.1" cy="308.6" r="2.05"/><circle cx="146.9" cy="319.4" r="2.05"/><circle cx="176.6" cy="315.6" r="2.05"/><circle cx="197.9" cy="302.6" r="2.05"/><circle cx="251.8" cy="316.4" r="2.05"/><circle cx="197.9" cy="343.6" r="2.05"/><circle cx="282.7" cy="352.9" r="2.05"/><circle cx="104.0" cy="348.4" r="2.05"/><circle cx="122.7" cy="355.8" r="2.05"/><circle cx="113.0" cy="361.8" r="2.05"/><circle cx="116.0" cy="370.7" r="2.05"/><circle cx="109.6" cy="373.3" r="2.05"/><circle cx="112.2" cy="372.6" r="2.05"/><circle cx="89.5" cy="373.3" r="2.05"/><circle cx="78.7" cy="379.3" r="2.05"/><circle cx="75.0" cy="382.6" r="2.05"/><circle cx="80.6" cy="358.8" r="2.05"/><circle cx="83.6" cy="364.8" r="2.05"/><circle cx="92.1" cy="408.7" r="2.05"/><circle cx="62.3" cy="242.4" r="2.05"/><circle cx="65.2" cy="304.0" r="2.05"/><circle cx="51.3" cy="331.8" r="2.05"/><circle cx="54.0" cy="330.5" r="2.05"/><circle cx="56.0" cy="340.0" r="2.05"/><circle cx="66.8" cy="340.9" r="2.05"/><circle cx="51.9" cy="348.4" r="2.05"/><circle cx="55.4" cy="348.4" r="2.05"/><circle cx="72.3" cy="348.8" r="2.05"/><circle cx="74.8" cy="352.1" r="2.05"/><circle cx="64.8" cy="358.2" r="2.05"/><circle cx="65.5" cy="363.9" r="2.05"/><circle cx="69.2" cy="365.8" r="2.05"/><circle cx="62.4" cy="367.8" r="2.05"/><circle cx="66.8" cy="368.5" r="2.05"/><circle cx="70.3" cy="367.8" r="2.05"/><circle cx="50.3" cy="368.3" r="2.05"/><circle cx="55.4" cy="370.5" r="2.05"/><circle cx="60.2" cy="372.7" r="2.05"/><circle cx="63.3" cy="371.1" r="2.05"/><circle cx="69.8" cy="371.8" r="2.05"/><circle cx="67.6" cy="374.4" r="2.05"/><circle cx="61.5" cy="374.0" r="2.05"/><circle cx="65.0" cy="371.8" r="2.05"/><circle cx="69.4" cy="371.9" r="2.05"/><circle cx="54.5" cy="376.1" r="2.05"/><circle cx="50.3" cy="378.3" r="2.05"/><circle cx="54.3" cy="379.2" r="2.05"/><circle cx="67.2" cy="374.8" r="2.05"/><circle cx="65.5" cy="378.5" r="2.05"/><circle cx="72.0" cy="378.3" r="2.05"/><circle cx="57.6" cy="381.4" r="2.05"/><circle cx="62.0" cy="380.9" r="2.05"/><circle cx="65.0" cy="384.0" r="2.05"/><circle cx="70.3" cy="384.5" r="2.05"/><circle cx="52.3" cy="385.3" r="2.05"/><circle cx="56.3" cy="386.6" r="2.05"/><circle cx="71.6" cy="387.5" r="2.05"/><circle cx="63.7" cy="388.0" r="2.05"/><circle cx="49.7" cy="388.0" r="2.05"/><circle cx="52.8" cy="391.0" r="2.05"/><circle cx="60.6" cy="391.0" r="2.05"/><circle cx="65.0" cy="391.0" r="2.05"/><circle cx="56.3" cy="389.7" r="2.05"/><circle cx="50.6" cy="393.2" r="2.05"/><circle cx="61.5" cy="393.6" r="2.05"/><circle cx="54.5" cy="393.6" r="2.05"/><circle cx="49.7" cy="396.3" r="2.05"/><circle cx="54.5" cy="396.7" r="2.05"/><circle cx="57.6" cy="395.4" r="2.05"/><circle cx="64.1" cy="397.9" r="2.05"/><circle cx="60.2" cy="398.5" r="2.05"/><circle cx="62.4" cy="400.2" r="2.05"/><circle cx="60.2" cy="401.1" r="2.05"/><circle cx="54.5" cy="400.2" r="2.05"/><circle cx="51.7" cy="402.6" r="2.05"/><circle cx="51.0" cy="405.0" r="2.05"/><circle cx="47.1" cy="409.2" r="2.05"/><circle cx="50.6" cy="409.4" r="2.05"/><circle cx="53.2" cy="409.9" r="2.05"/><circle cx="65.3" cy="363.8" r="2.05"/><circle cx="69.3" cy="365.7" r="2.05"/><circle cx="62.0" cy="367.5" r="2.05"/><circle cx="66.8" cy="368.6" r="2.05"/><circle cx="50.2" cy="368.5" r="2.05"/><circle cx="55.4" cy="370.7" r="2.05"/><circle cx="70.4" cy="367.9" r="2.05"/><circle cx="63.4" cy="371.2" r="2.05"/><circle cx="59.8" cy="372.3" r="2.05"/><circle cx="69.7" cy="371.9" r="2.05"/><circle cx="61.6" cy="374.1" r="2.05"/><circle cx="67.5" cy="375.2" r="2.05"/><circle cx="65.3" cy="373.4" r="2.05"/><circle cx="54.6" cy="376.3" r="2.05"/><circle cx="50.2" cy="378.3" r="2.05"/><circle cx="53.9" cy="379.2" r="2.05"/><circle cx="62.0" cy="377.4" r="2.05"/><circle cx="65.3" cy="378.5" r="2.05"/><circle cx="72.3" cy="378.1" r="2.05"/><circle cx="78.9" cy="379.2" r="2.05"/><circle cx="57.6" cy="381.7" r="2.05"/><circle cx="61.6" cy="380.7" r="2.05"/><circle cx="61.6" cy="383.7" r="2.05"/><circle cx="64.9" cy="384.0" r="2.05"/><circle cx="74.1" cy="382.6" r="2.05"/><circle cx="50.2" cy="381.4" r="2.05"/><circle cx="52.4" cy="385.3" r="2.05"/><circle cx="56.5" cy="387.0" r="2.05"/><circle cx="63.4" cy="388.1" r="2.05"/><circle cx="71.5" cy="387.7" r="2.05"/><circle cx="71.2" cy="384.8" r="2.05"/><circle cx="49.9" cy="388.1" r="2.05"/><circle cx="52.4" cy="391.4" r="2.05"/><circle cx="55.0" cy="393.6" r="2.05"/><circle cx="59.4" cy="391.0" r="2.05"/><circle cx="65.3" cy="391.4" r="2.05"/><circle cx="61.6" cy="393.9" r="2.05"/><circle cx="50.6" cy="393.6" r="2.05"/><circle cx="49.9" cy="396.5" r="2.05"/><circle cx="54.6" cy="396.5" r="2.05"/><circle cx="57.6" cy="395.4" r="2.05"/><circle cx="64.6" cy="397.6" r="2.05"/><circle cx="60.5" cy="398.3" r="2.05"/><circle cx="53.5" cy="399.4" r="2.05"/><circle cx="55.7" cy="400.5" r="2.05"/><circle cx="62.3" cy="400.2" r="2.05"/><circle cx="60.5" cy="401.3" r="2.05"/><circle cx="51.3" cy="402.4" r="2.05"/><circle cx="50.6" cy="405.3" r="2.05"/></g>
<g fill="#000" stroke="#fff" stroke-width="0.5"><circle cx="229.9" cy="496.5" r="2.05"/><circle cx="252.0" cy="500.6" r="2.05"/><circle cx="306.6" cy="529.8" r="2.05"/><circle cx="276.0" cy="543.8" r="2.05"/><circle cx="224.6" cy="546.8" r="2.05"/><circle cx="196.6" cy="543.3" r="2.05"/><circle cx="147.8" cy="536.2" r="2.05"/><circle cx="260.8" cy="571.3" r="2.05"/><circle cx="316.0" cy="580.6" r="2.05"/><circle cx="143.7" cy="576.5" r="2.05"/><circle cx="162.7" cy="576.0" r="2.05"/><circle cx="170.0" cy="583.5" r="2.05"/><circle cx="160.7" cy="586.5" r="2.05"/><circle cx="154.2" cy="589.7" r="2.05"/><circle cx="138.8" cy="586.5" r="2.05"/><circle cx="192.2" cy="592.6" r="2.05"/><circle cx="194.8" cy="598.1" r="2.05"/><circle cx="195.1" cy="600.8" r="2.05"/><circle cx="203.9" cy="601.9" r="2.05"/><circle cx="160.1" cy="610.4" r="2.05"/><circle cx="155.7" cy="612.7" r="2.05"/><circle cx="148.1" cy="615.7" r="2.05"/><circle cx="101.4" cy="469.5" r="2.05"/><circle cx="115.1" cy="531.5" r="2.05"/><circle cx="74.3" cy="559.6" r="2.05"/><circle cx="98.9" cy="558.3" r="2.05"/><circle cx="110.9" cy="568.5" r="2.05"/><circle cx="121.1" cy="567.7" r="2.05"/><circle cx="76.7" cy="576.3" r="2.05"/><circle cx="78.5" cy="576.3" r="2.05"/><circle cx="123.8" cy="579.5" r="2.05"/><circle cx="81.9" cy="596.1" r="2.05"/><circle cx="75.3" cy="598.5" r="2.05"/><circle cx="87.7" cy="600.7" r="2.05"/><circle cx="94.5" cy="599.0" r="2.05"/><circle cx="98.2" cy="598.3" r="2.05"/><circle cx="105.6" cy="595.6" r="2.05"/><circle cx="90.4" cy="603.6" r="2.05"/><circle cx="93.5" cy="602.3" r="2.05"/><circle cx="70.6" cy="606.2" r="2.05"/><circle cx="73.5" cy="605.8" r="2.05"/><circle cx="83.1" cy="604.6" r="2.05"/><circle cx="94.5" cy="606.2" r="2.05"/><circle cx="96.9" cy="607.5" r="2.05"/><circle cx="99.8" cy="608.0" r="2.05"/><circle cx="103.2" cy="607.5" r="2.05"/><circle cx="105.6" cy="605.0" r="2.05"/><circle cx="77.5" cy="609.6" r="2.05"/><circle cx="81.1" cy="609.1" r="2.05"/><circle cx="84.8" cy="608.1" r="2.05"/><circle cx="88.5" cy="609.1" r="2.05"/><circle cx="92.4" cy="611.3" r="2.05"/><circle cx="105.0" cy="611.1" r="2.05"/><circle cx="73.4" cy="612.3" r="2.05"/><circle cx="80.1" cy="613.3" r="2.05"/><circle cx="83.3" cy="614.3" r="2.05"/><circle cx="89.8" cy="614.7" r="2.05"/><circle cx="81.7" cy="617.4" r="2.05"/><circle cx="98.9" cy="616.7" r="2.05"/><circle cx="103.0" cy="615.5" r="2.05"/><circle cx="105.6" cy="618.4" r="2.05"/><circle cx="88.2" cy="619.3" r="2.05"/><circle cx="92.7" cy="621.0" r="2.05"/><circle cx="97.9" cy="619.8" r="2.05"/><circle cx="98.9" cy="621.7" r="2.05"/><circle cx="84.3" cy="621.8" r="2.05"/><circle cx="72.2" cy="621.5" r="2.05"/><circle cx="77.7" cy="623.7" r="2.05"/><circle cx="96.9" cy="623.5" r="2.05"/><circle cx="86.5" cy="624.7" r="2.05"/><circle cx="91.1" cy="626.7" r="2.05"/><circle cx="89.6" cy="628.3" r="2.05"/><circle cx="95.2" cy="628.1" r="2.05"/><circle cx="92.7" cy="631.0" r="2.05"/><circle cx="59.6" cy="632.9" r="2.05"/><circle cx="67.4" cy="630.7" r="2.05"/><circle cx="66.4" cy="632.2" r="2.05"/><circle cx="81.9" cy="633.2" r="2.05"/><circle cx="50.7" cy="637.2" r="2.05"/><circle cx="64.9" cy="637.8" r="2.05"/><circle cx="67.8" cy="638.5" r="2.05"/><circle cx="70.1" cy="636.3" r="2.05"/><circle cx="72.2" cy="637.0" r="2.05"/><circle cx="75.9" cy="637.0" r="2.05"/><circle cx="79.0" cy="636.3" r="2.05"/><circle cx="81.7" cy="638.0" r="2.05"/><circle cx="93.5" cy="636.8" r="2.05"/><circle cx="108.7" cy="586.1" r="2.05"/><circle cx="125.7" cy="592.2" r="2.05"/><circle cx="121.1" cy="594.7" r="2.05"/><circle cx="113.4" cy="598.1" r="2.05"/><circle cx="130.0" cy="596.3" r="2.05"/><circle cx="137.3" cy="596.3" r="2.05"/><circle cx="141.2" cy="593.6" r="2.05"/><circle cx="141.9" cy="597.1" r="2.05"/><circle cx="144.1" cy="600.0" r="2.05"/><circle cx="133.9" cy="600.7" r="2.05"/><circle cx="141.2" cy="602.9" r="2.05"/><circle cx="144.4" cy="603.1" r="2.05"/><circle cx="144.6" cy="606.5" r="2.05"/><circle cx="140.7" cy="606.2" r="2.05"/><circle cx="138.3" cy="606.5" r="2.05"/><circle cx="131.5" cy="605.0" r="2.05"/><circle cx="133.4" cy="607.5" r="2.05"/><circle cx="126.0" cy="607.0" r="2.05"/><circle cx="129.6" cy="606.2" r="2.05"/><circle cx="109.7" cy="604.3" r="2.05"/><circle cx="115.3" cy="606.5" r="2.05"/><circle cx="111.6" cy="608.4" r="2.05"/><circle cx="107.8" cy="608.7" r="2.05"/><circle cx="118.4" cy="608.1" r="2.05"/><circle cx="121.8" cy="608.1" r="2.05"/><circle cx="125.2" cy="611.3" r="2.05"/><circle cx="130.5" cy="612.0" r="2.05"/><circle cx="134.4" cy="612.0" r="2.05"/><circle cx="119.4" cy="612.3" r="2.05"/><circle cx="107.3" cy="616.2" r="2.05"/><circle cx="123.3" cy="615.2" r="2.05"/><circle cx="125.7" cy="614.7" r="2.05"/><circle cx="133.1" cy="616.5" r="2.05"/><circle cx="140.5" cy="615.7" r="2.05"/><circle cx="144.1" cy="614.0" r="2.05"/><circle cx="123.7" cy="619.4" r="2.05"/><circle cx="133.0" cy="620.4" r="2.05"/><circle cx="142.2" cy="619.6" r="2.05"/><circle cx="120.5" cy="622.5" r="2.05"/><circle cx="116.7" cy="623.3" r="2.05"/><circle cx="114.7" cy="626.9" r="2.05"/><circle cx="126.9" cy="625.9" r="2.05"/><circle cx="130.2" cy="625.6" r="2.05"/><circle cx="138.6" cy="625.2" r="2.05"/><circle cx="143.6" cy="625.9" r="2.05"/><circle cx="121.3" cy="628.3" r="2.05"/><circle cx="126.0" cy="628.8" r="2.05"/><circle cx="131.0" cy="629.3" r="2.05"/><circle cx="139.3" cy="629.8" r="2.05"/></g>
<g fill="#ffc000" stroke="#6b5200" stroke-width="0.55"><circle cx="483.2" cy="269.5" r="2.3"/><circle cx="637.0" cy="353.2" r="2.3"/><circle cx="416.9" cy="242.4" r="2.3"/><circle cx="420.0" cy="304.5" r="2.3"/><circle cx="405.8" cy="332.6" r="2.3"/><circle cx="408.5" cy="331.3" r="2.3"/><circle cx="410.5" cy="340.5" r="2.3"/><circle cx="406.6" cy="349.2" r="2.3"/><circle cx="404.8" cy="369.2" r="2.3"/><circle cx="410.1" cy="371.6" r="2.3"/><circle cx="405.4" cy="382.3" r="2.3"/><circle cx="408.5" cy="382.3" r="2.3"/><circle cx="425.2" cy="385.8" r="2.3"/><circle cx="409.8" cy="391.0" r="2.3"/><circle cx="405.7" cy="394.5" r="2.3"/><circle cx="412.5" cy="396.3" r="2.3"/><circle cx="416.0" cy="396.1" r="2.3"/><circle cx="407.6" cy="400.7" r="2.3"/><circle cx="409.8" cy="401.5" r="2.3"/><circle cx="414.6" cy="402.4" r="2.3"/><circle cx="417.7" cy="403.3" r="2.3"/><circle cx="406.3" cy="403.3" r="2.3"/><circle cx="405.7" cy="405.0" r="2.3"/><circle cx="405.0" cy="407.2" r="2.3"/><circle cx="404.1" cy="410.3" r="2.3"/><circle cx="406.3" cy="410.7" r="2.3"/><circle cx="408.3" cy="410.5" r="2.3"/></g>
<g fill="#2e75b6" stroke="#15304a" stroke-width="0.55"><circle cx="562.2" cy="273.9" r="2.3"/><circle cx="437.1" cy="309.3" r="2.3"/><circle cx="501.1" cy="320.1" r="2.3"/><circle cx="530.9" cy="316.4" r="2.3"/><circle cx="552.1" cy="303.3" r="2.3"/><circle cx="606.1" cy="317.1" r="2.3"/><circle cx="552.1" cy="344.3" r="2.3"/><circle cx="458.3" cy="349.1" r="2.3"/><circle cx="477.3" cy="356.6" r="2.3"/><circle cx="467.2" cy="362.9" r="2.3"/><circle cx="470.6" cy="371.5" r="2.3"/><circle cx="466.5" cy="373.7" r="2.3"/><circle cx="435.6" cy="359.6" r="2.3"/><circle cx="438.2" cy="365.9" r="2.3"/><circle cx="433.0" cy="380.4" r="2.3"/><circle cx="421.5" cy="341.6" r="2.3"/><circle cx="410.4" cy="349.2" r="2.3"/><circle cx="427.2" cy="349.5" r="2.3"/><circle cx="429.7" cy="353.0" r="2.3"/><circle cx="420.3" cy="365.0" r="2.3"/><circle cx="418.3" cy="367.8" r="2.3"/><circle cx="417.7" cy="370.9" r="2.3"/><circle cx="418.3" cy="374.0" r="2.3"/><circle cx="406.8" cy="379.2" r="2.3"/><circle cx="409.4" cy="377.7" r="2.3"/><circle cx="416.6" cy="377.4" r="2.3"/><circle cx="419.0" cy="380.5" r="2.3"/><circle cx="422.5" cy="379.8" r="2.3"/><circle cx="427.1" cy="380.7" r="2.3"/><circle cx="417.3" cy="383.6" r="2.3"/><circle cx="407.2" cy="386.2" r="2.3"/><circle cx="411.0" cy="388.0" r="2.3"/><circle cx="414.6" cy="388.8" r="2.3"/><circle cx="418.0" cy="389.7" r="2.3"/><circle cx="414.2" cy="392.3" r="2.3"/><circle cx="419.5" cy="393.6" r="2.3"/><circle cx="409.4" cy="394.3" r="2.3"/><circle cx="409.4" cy="397.9" r="2.3"/><circle cx="419.2" cy="398.7" r="2.3"/><circle cx="415.5" cy="399.8" r="2.3"/><circle cx="417.3" cy="401.5" r="2.3"/></g>
<g fill="#ffc000" stroke="#6b5200" stroke-width="0.55"><circle cx="584.2" cy="496.6" r="2.3"/><circle cx="670.1" cy="580.1" r="2.3"/><circle cx="510.2" cy="612.4" r="2.3"/><circle cx="487.5" cy="619.9" r="2.3"/><circle cx="485.4" cy="625.3" r="2.3"/><circle cx="493.2" cy="624.7" r="2.3"/><circle cx="498.2" cy="625.3" r="2.3"/><circle cx="485.9" cy="628.6" r="2.3"/><circle cx="494.1" cy="629.2" r="2.3"/><circle cx="480.7" cy="627.9" r="2.3"/><circle cx="456.4" cy="469.5" r="2.3"/><circle cx="470.1" cy="531.2" r="2.3"/><circle cx="429.4" cy="559.2" r="2.3"/><circle cx="453.9" cy="557.8" r="2.3"/><circle cx="476.1" cy="567.1" r="2.3"/><circle cx="431.4" cy="575.9" r="2.3"/><circle cx="437.0" cy="596.0" r="2.3"/><circle cx="430.3" cy="598.3" r="2.3"/><circle cx="428.8" cy="605.3" r="2.3"/><circle cx="436.3" cy="608.7" r="2.3"/><circle cx="443.4" cy="608.5" r="2.3"/><circle cx="438.5" cy="613.8" r="2.3"/><circle cx="462.2" cy="617.1" r="2.3"/><circle cx="452.0" cy="622.5" r="2.3"/><circle cx="427.1" cy="621.0" r="2.3"/><circle cx="447.5" cy="620.5" r="2.3"/><circle cx="438.3" cy="621.8" r="2.3"/><circle cx="446.2" cy="626.1" r="2.3"/><circle cx="444.6" cy="627.9" r="2.3"/><circle cx="447.9" cy="630.5" r="2.3"/><circle cx="422.4" cy="630.2" r="2.3"/><circle cx="421.3" cy="631.0" r="2.3"/><circle cx="436.8" cy="632.7" r="2.3"/><circle cx="419.9" cy="637.1" r="2.3"/><circle cx="436.7" cy="637.3" r="2.3"/><circle cx="471.4" cy="623.0" r="2.3"/><circle cx="480.4" cy="628.1" r="2.3"/></g>
<g fill="#2e75b6" stroke="#15304a" stroke-width="0.55"><circle cx="606.3" cy="500.5" r="2.3"/><circle cx="660.5" cy="529.5" r="2.3"/><circle cx="630.3" cy="543.6" r="2.3"/><circle cx="579.1" cy="546.6" r="2.3"/><circle cx="550.9" cy="543.0" r="2.3"/><circle cx="502.4" cy="535.8" r="2.3"/><circle cx="615.0" cy="570.8" r="2.3"/><circle cx="498.6" cy="575.9" r="2.3"/><circle cx="517.4" cy="575.3" r="2.3"/><circle cx="524.9" cy="582.8" r="2.3"/><circle cx="515.3" cy="586.1" r="2.3"/><circle cx="509.0" cy="589.1" r="2.3"/><circle cx="493.5" cy="586.1" r="2.3"/><circle cx="547.0" cy="592.1" r="2.3"/><circle cx="549.7" cy="597.8" r="2.3"/><circle cx="549.7" cy="600.2" r="2.3"/><circle cx="493.5" cy="606.8" r="2.3"/><circle cx="499.5" cy="606.5" r="2.3"/><circle cx="488.1" cy="616.0" r="2.3"/><circle cx="482.0" cy="625.3" r="2.3"/><circle cx="476.8" cy="627.9" r="2.3"/><circle cx="466.1" cy="567.8" r="2.3"/><circle cx="433.5" cy="575.6" r="2.3"/><circle cx="478.8" cy="578.9" r="2.3"/><circle cx="480.6" cy="591.3" r="2.3"/><circle cx="476.1" cy="594.2" r="2.3"/><circle cx="453.5" cy="597.8" r="2.3"/><circle cx="450.1" cy="600.5" r="2.3"/><circle cx="425.7" cy="605.3" r="2.3"/><circle cx="438.3" cy="604.3" r="2.3"/><circle cx="464.8" cy="603.9" r="2.3"/><circle cx="469.2" cy="606.5" r="2.3"/><circle cx="473.2" cy="607.0" r="2.3"/><circle cx="476.6" cy="607.7" r="2.3"/><circle cx="448.9" cy="609.5" r="2.3"/><circle cx="454.9" cy="608.9" r="2.3"/><circle cx="460.2" cy="610.6" r="2.3"/><circle cx="436.0" cy="612.8" r="2.3"/><circle cx="445.1" cy="614.3" r="2.3"/><circle cx="462.2" cy="615.4" r="2.3"/><circle cx="453.8" cy="616.2" r="2.3"/><circle cx="454.9" cy="618.7" r="2.3"/><circle cx="452.8" cy="620.0" r="2.3"/><circle cx="439.7" cy="620.8" r="2.3"/><circle cx="441.8" cy="624.3" r="2.3"/><circle cx="470.2" cy="626.1" r="2.3"/><circle cx="476.3" cy="627.8" r="2.3"/><circle cx="481.9" cy="625.3" r="2.3"/></g>
<rect x="629.5" y="380.2" width="48.8" height="26.1" fill="#fff" stroke="#c4c4c4" stroke-width="0.9" rx="1"/>
<circle cx="636.3" cy="387.6" r="2.3" fill="#ffc000" stroke="#6b5200" stroke-width="0.5"/>
<circle cx="636.3" cy="399.6" r="2.3" fill="#2e75b6" stroke="#15304a" stroke-width="0.5"/>
<text x="646.6" y="390.1" font-size="7" text-anchor="start" style="fill:#1e1e1e;stroke:#1e1e1e;stroke-width:0.05px" font-weight="normal">Phase I</text>
<text x="646.6" y="401.6" font-size="7" text-anchor="start" style="fill:#1e1e1e;stroke:#1e1e1e;stroke-width:0.05px" font-weight="normal">Phase II</text>
<rect x="629.7" y="607.1" width="48.6" height="25.2" fill="#fff" stroke="#c4c4c4" stroke-width="0.9" rx="1"/>
<circle cx="636.3" cy="613.8" r="2.3" fill="#ffc000" stroke="#6b5200" stroke-width="0.5"/>
<circle cx="636.3" cy="625.8" r="2.3" fill="#2e75b6" stroke="#15304a" stroke-width="0.5"/>
<text x="646.6" y="616.0" font-size="7" text-anchor="start" style="fill:#1e1e1e;stroke:#1e1e1e;stroke-width:0.05px" font-weight="normal">Phase I</text>
<text x="646.6" y="628.1" font-size="7" text-anchor="start" style="fill:#1e1e1e;stroke:#1e1e1e;stroke-width:0.05px" font-weight="normal">Phase II</text>
<text transform="translate(8.9,89.9) rotate(-90)" font-size="11.0" text-anchor="middle">&#948;<tspan font-size="7" dy="-4">13</tspan><tspan dy="4">C</tspan><tspan font-size="7.5" dy="3.8">TOC</tspan><tspan dy="-3.8">(&#8240; VPDB)</tspan></text>
<text transform="translate(367.2,90.0) rotate(-90)" font-size="11.0" text-anchor="middle">&#948;<tspan font-size="7" dy="-4">13</tspan><tspan dy="4">C</tspan><tspan font-size="7.5" dy="3.8">TOC</tspan><tspan dy="-3.8">(&#8240; VPDB)</tspan></text>
<text transform="translate(12.8,320.7) rotate(-90)" font-size="11.1" text-anchor="middle">Hg (ppb)</text>
<text transform="translate(370.9,325.0) rotate(-90)" font-size="11.1" text-anchor="middle">Hg (ppb)</text>
<text transform="translate(12.5,546.4) rotate(-90)" font-size="11.1" text-anchor="middle">Hg (ppb)</text>
<text transform="translate(370.9,553.5) rotate(-90)" font-size="11.1" text-anchor="middle">Hg (ppb)</text>
<text x="190.8" y="218.0" font-size="11.1" text-anchor="middle">TOC (wt.%)</text>
<text x="540.5" y="218.0" font-size="11.1" text-anchor="middle">TOC:TN</text>
<text x="190.5" y="443.4" font-size="11.1" text-anchor="middle">TOC (wt.%)</text>
<text x="544.2" y="443.8" font-size="11.1" text-anchor="middle">TOC (wt.%)</text>
<text x="187.6" y="680.2" font-size="11.1" text-anchor="middle">TOC:TN</text>
<text x="540.5" y="680.2" font-size="11.1" text-anchor="middle">TOC:TN</text>
<text x="325.6" y="14.1" font-size="13" font-weight="bold" text-anchor="end">a</text>
<text x="677.4" y="14.0" font-size="13" font-weight="bold" text-anchor="end">b</text>
<text x="325.6" y="246.0" font-size="13" font-weight="bold" text-anchor="end">c</text>
<text x="677.3" y="246.0" font-size="13" font-weight="bold" text-anchor="end">d</text>
<text x="325.6" y="472.4" font-size="13" font-weight="bold" text-anchor="end">e</text>
<text x="675.6" y="472.3" font-size="13" font-weight="bold" text-anchor="end">f</text>
</svg></body></html>
